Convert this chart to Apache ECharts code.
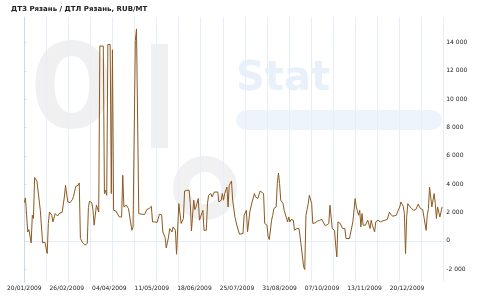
<!DOCTYPE html>
<html>
<head>
<meta charset="utf-8">
<script src="https://cdn.jsdelivr.net/npm/echarts@6/dist/echarts.min.js"></script>
<style>html,body{margin:0;padding:0;background:#fff}#c{width:500px;height:300px}</style>
</head>
<body>
<div id="c"></div>
<script>
const chartTitle = 'ДТЗ Рязань / ДТЛ Рязань, RUB/MT';
// days since 20/01/2009
const days = [0,1,3,4,6,7,8,9,11,12,14,16,18,20,21,22,24,25,27,29,31,33,34,35,36,38,40,42,43,45,47,48,49,51,53,55,56,57,59,60,61,63,65,66,69,70,71,72,73,75,76,77,78,80,81,83,85,86,87,89,91,92,94,95,97,98,99,100,103,105,107,109,111,112,114,116,118,120,121,123,124,126,127,129,130,132,133,135,136,137,139,140,142,144,145,146,148,149,150,152,153,154,156,157,159,160,161,163,164,166,167,169,170,172,173,174,175,177,178,179,181,182,184,185,186,188,189,191,192,194,195,196,197,199,201,202,204,206,207,209,210,212,213,214,216,217,218,220,221,222,223,224,226,227,228,230,231,232,233,235,236,238,240,242,243,244,245,246,247,248,249,251,252,254,256,258,260,261,263,264,266,267,268,269,271,272,273,274,276,277,278,280,281,284,285,287,288,289,290,292,293,294,295,296,298,299,300,302,303,304,306,307,309,311,313,315,317,319,320,322,323,325,326,328,329,330,331,332,333,334,335,337,338,340,342,344,346,348,349,351,352,353,354,355,356,358,359,360,361,362,363,365];
const values = [2700,3030,630,800,-140,1810,1580,4470,4230,4230,2160,-140,-90,-890,1230,2040,1810,1340,1930,1760,1970,2000,2000,3100,3920,2750,2700,2920,3150,3850,3920,4090,170,-140,-300,-180,2350,2800,2700,2160,1110,2520,2040,13750,13750,3340,3570,3220,13860,13860,3340,13490,2160,2110,2210,1690,1690,4630,2400,2520,2280,2160,750,990,14140,14960,14850,1930,1880,1860,2210,2280,2440,1340,1340,1300,1880,1840,630,240,-500,280,870,630,990,750,-940,2630,2680,1230,1580,3520,3570,3570,2630,700,2870,2210,2400,2990,1460,1340,2160,750,750,2630,3220,3340,3100,3450,3340,3450,2750,2870,3340,2870,3340,3800,2400,3920,4230,2870,1690,1580,990,470,470,520,1810,2160,630,580,2040,2750,3340,3100,3000,3520,3410,3340,1230,1110,280,100,1460,1810,2280,2400,4040,4790,4040,2870,2630,2160,2210,1340,1690,1340,1510,1460,750,870,870,-420,-470,-1830,-2020,1810,2210,2630,3220,2630,1230,1270,1390,1460,1510,1340,1060,1040,1230,2520,2630,870,750,-300,-1130,1340,1230,1230,870,870,170,170,170,1340,1230,2990,2400,1810,2160,990,1930,1110,1110,1110,1460,870,1460,1110,630,1340,1460,1340,1410,1460,1510,2040,1880,1740,1650,1810,2040,2400,2750,2630,2440,1930,-890,1650,2630,2400,2280,2160,2210,2590,2280,2210,2110,750,1810,2280,3800,3850,2400,3340,2630,1580,2400,2400,1690,2400,2440];
const xTickLabels = ['20/01/2009','26/02/2009','04/04/2009','11/05/2009','18/06/2009','25/07/2009','31/08/2009','07/10/2009','13/11/2009','20/12/2009'];
const xTickStep = 37.15;
const yTickValues = [-2000,0,2000,4000,6000,8000,10000,12000,14000];

const seriesData = days.map((d, i) => [d, values[i]]);
const fmt = v => (v < 0 ? '-' : '') + String(Math.abs(v)).replace(/\B(?=(\d{3})+(?!\d))/g, ' ');

const chart = echarts.init(document.getElementById('c'), null, {renderer: 'canvas'});
chart.setOption({
  animation: false,
  backgroundColor: '#fff',
  title: {
    text: chartTitle, left: 6, top: 1,
    textStyle: {fontFamily: 'DejaVu Sans', fontSize: 7, fontWeight: 'bold', color: '#222'}
  },
  graphic: [
    {type: 'text', z: -10, x: 72, y: 96, scaleX: 0.82, style: {text: 'O', font: 'bold 118px "DejaVu Sans"', fill: '#f0f0f0', align: 'center', verticalAlign: 'middle'}},
    {type: 'rect', z: -10, shape: {x: 151, y: 44, width: 17, height: 104}, style: {fill: '#f0f0f0'}},
    {type: 'text', z: -10, x: 236, y: 80, style: {text: 'Stat', font: 'bold 40px "DejaVu Sans"', fill: '#e8f1fa', verticalAlign: 'middle'}},
    {type: 'rect', z: -10, shape: {x: 236, y: 110, width: 206, height: 20, r: 10}, style: {fill: '#eef4fb'}},
    {type: 'circle', z: -10, shape: {cx: 205, cy: 188, r: 24}, style: {fill: 'none', stroke: '#f1f1f1', lineWidth: 16}}
  ],
  grid: {left: 24.3, right: 56.7, top: 17, bottom: 18},
  xAxis: [
    {
      type: 'value', min: 0, max: 366, interval: xTickStep,
      axisLine: {show: true, lineStyle: {color: '#e3edf6'}},
      axisTick: {show: false},
      splitLine: {show: false},
      axisLabel: {
        margin: 3, showMaxLabel: false,
        fontFamily: 'DejaVu Sans', fontSize: 6, color: '#222',
        formatter: v => { const i = Math.round(v / xTickStep); return xTickLabels[i] || ''; }
      }
    },
    {
      type: 'value', min: 0, max: 19, interval: 1, position: 'bottom',
      axisLine: {show: false}, axisTick: {show: false}, axisLabel: {show: false},
      splitLine: {show: true, lineStyle: {color: '#e6eff8', width: 1}}
    }
  ],
  yAxis: {
    type: 'value', position: 'right', min: -2900, max: 15800,
    axisLine: {show: true, lineStyle: {color: '#c9d9e8'}},
    axisTick: {show: true, length: 2, customValues: yTickValues, lineStyle: {color: '#c9d9e8'}},
    splitLine: {show: false},
    axisLabel: {
      customValues: yTickValues, margin: 3,
      fontFamily: 'DejaVu Sans', fontSize: 6, color: '#222',
      formatter: v => fmt(v)
    }
  },
  series: [{
    type: 'line', xAxisIndex: 0, data: seriesData, showSymbol: false,
    lineStyle: {color: '#8c5a20', width: 1}
  }]
});
</script>
</body>
</html>
